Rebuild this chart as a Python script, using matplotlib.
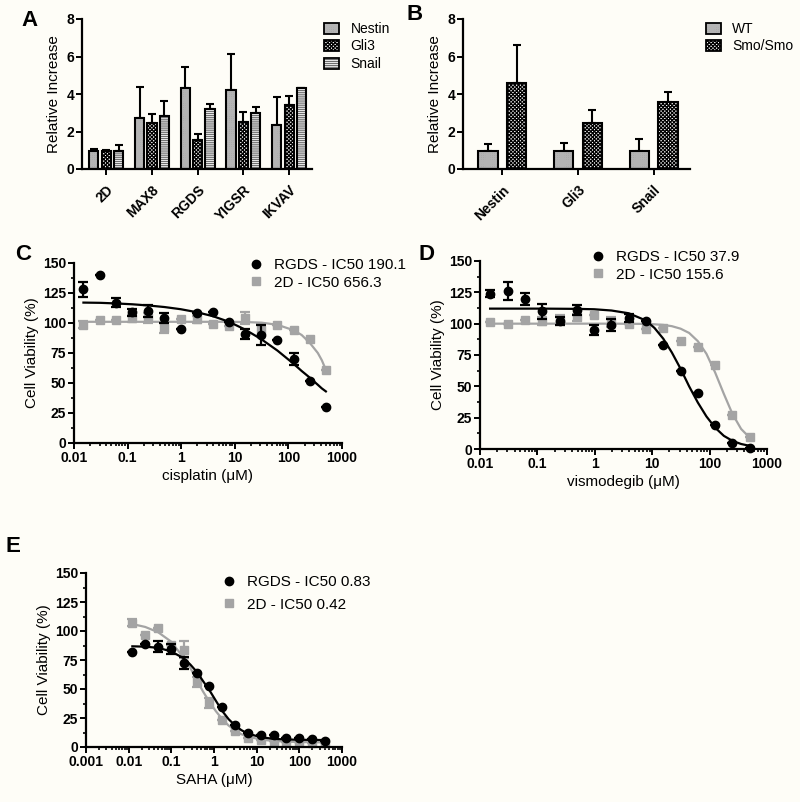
import matplotlib
matplotlib.use("Agg")
import matplotlib.pyplot as plt
import numpy as np
from matplotlib.patches import Patch
from matplotlib.lines import Line2D
from matplotlib.ticker import LogLocator, NullFormatter, MultipleLocator

plt.rcParams['font.family'] = ['Liberation Sans', 'DejaVu Sans']
plt.rcParams['font.weight'] = 'bold'
plt.rcParams['hatch.linewidth'] = 0.9

# ---- panel A data ----
a_groups = ['2D', 'MAX8', 'RGDS', 'YIGSR', 'IKVAV']
a_nestin = [0.98, 2.70, 4.33, 4.21, 2.36]
a_nestin_err = [0.07, 1.69, 1.09, 1.90, 1.46]
a_gli3 = [0.98, 2.47, 1.55, 2.49, 3.41]
a_gli3_err = [0.03, 0.48, 0.33, 0.53, 0.48]
a_snail = [0.98, 2.84, 3.21, 3.00, 4.33]
a_snail_err = [0.30, 0.78, 0.25, 0.29, 0.0]

# ---- panel B data ----
b_genes = ['Nestin', 'Gli3', 'Snail']
b_wt = [0.98, 0.98, 0.98]
b_wt_err = [0.37, 0.42, 0.62]
b_smo = [4.60, 2.43, 3.55]
b_smo_err = [2.01, 0.70, 0.54]

# ---- panel C data (cisplatin) ----
c_conc = [0.015, 0.031, 0.061, 0.122, 0.244, 0.488, 0.977, 1.95, 3.9, 7.8, 15.6, 31.25, 62.5, 125, 250, 500]
c_rgds = [128, 140, 117, 109, 110, 104, 95, 108, 109, 101, 91, 90, 86, 70, 52, 30]
c_rgds_err = [6, 0, 4, 3, 5, 4, 0, 0, 0, 0, 4, 8, 0, 5, 0, 0]
c_2d = [98.6, 102.5, 102.5, 104, 104, 96, 103, 103, 99.5, 97.5, 104, 94, 98.5, 94, 87, 61]
c_2d_err = [3, 0, 0, 3, 4, 4, 0, 3, 0, 0, 5, 5, 0, 0, 0, 0]
c_fit_x = [0.015, 0.031, 0.061, 0.122, 0.244, 0.488, 0.977, 1.95, 3.9, 7.8, 15.6, 31.25, 62.5, 125, 177, 250, 354, 420, 500]
c_rgds_fit = [117, 116.8, 116.3, 115.6, 114.6, 113.3, 111.5, 109, 105.7, 101, 94.5, 86.5, 77, 66, 60, 54.5, 48.5, 45.5, 43]
c_2d_fit = [101, 101, 101, 101, 101, 101, 101, 101, 101, 101, 100.8, 100.3, 98.5, 94, 90, 83.5, 75, 69, 61]

# ---- panel D data (vismodegib) ----
d_conc = c_conc
d_rgds = [124, 126, 119.5, 110, 102, 111, 95, 99, 104.5, 102, 83, 62.5, 45, 19, 4.5, 0.5]
d_rgds_err = [3, 7, 5, 6, 3, 4, 4, 5, 3, 0, 0, 0, 0, 0, 0, 0]
d_2d = [101, 99.5, 103, 102, 103, 105, 107, 101, 99.5, 95.5, 96.5, 86.5, 81.5, 67, 27.5, 9.5]
d_2d_err = [0, 0, 0, 3, 4, 3, 0, 4, 0, 0, 0, 0, 0, 0, 0, 0]
d_fit_x = [0.015, 0.031, 0.061, 0.122, 0.244, 0.488, 0.977, 1.95, 3.9, 7.8, 11, 15.6, 22, 31.25, 44, 62.5, 88, 125, 177, 250, 354, 500]
d_rgds_fit = [112, 112, 112, 112, 111.9, 111.8, 111.5, 110.5, 108.3, 102.5, 96.5, 88, 77, 64, 50, 37, 26, 17, 10.5, 6.5, 4, 2.5]
d_2d_fit = [100, 100, 100, 100, 100, 100, 100, 100, 99.9, 99.8, 99.5, 99, 98, 96, 92.6, 86, 76, 61, 44, 28, 16, 9]

# ---- panel E data (SAHA) ----
e_conc = [0.0122, 0.0244, 0.0488, 0.0977, 0.195, 0.39, 0.78, 1.5625, 3.125, 6.25, 12.5, 25, 50, 100, 200, 400]
e_rgds = [82, 88.5, 86.5, 84.5, 72.5, 63.5, 52.8, 34.6, 19.3, 12.4, 10, 10, 8, 8, 6.6, 4.9]
e_rgds_err = [0, 0, 5, 4, 5, 0, 0, 0, 0, 0, 0, 0, 0, 0, 0, 0]
e_2d = [107, 96.5, 103, 88, 84, 56, 38, 23, 13.6, 8, 6.3, 5.2, 4.3, 4, 3.5, 3.5]
e_2d_err = [3, 0, 0, 0, 7, 4, 4, 0, 0, 0, 0, 0, 0, 0, 0, 0]
e_fit_x = [0.0122, 0.0244, 0.0488, 0.0977, 0.195, 0.28, 0.39, 0.55, 0.78, 1.1, 1.5625, 2.2, 3.125, 4.4, 6.25, 12.5, 25, 50, 100, 200, 400]
e_rgds_fit = [86.8, 86.5, 85.5, 82.5, 76.5, 71, 65, 57, 49, 40, 31, 24, 18.5, 14.5, 11.5, 8.5, 7, 6.5, 6.2, 6.1, 6]
e_2d_fit = [106, 103.5, 99, 91, 77, 68, 58, 48, 39, 31, 24, 18.5, 14.3, 11, 9, 6.4, 5.2, 4.6, 4.3, 4.1, 4]

BG = '#fefdf7'
GREY = '#a4a4a4'
W, H = 800, 802

fig = plt.figure(figsize=(8, 8.02), dpi=100, facecolor=BG)


def px_axes(left, top, right, bottom):
    ax = fig.add_axes([left / W, 1 - bottom / H, (right - left) / W, (bottom - top) / H])
    ax.set_facecolor(BG)
    ax.spines['top'].set_visible(False)
    ax.spines['right'].set_visible(False)
    ax.spines['left'].set_linewidth(1.6)
    ax.spines['bottom'].set_linewidth(1.6)
    ax.tick_params(width=1.4, length=4, labelsize=10, pad=1.5)
    ax.tick_params(which='minor', width=1.2, length=2.5)
    return ax


styles = {
    'Nestin': dict(face='#8a8a8a', hatch='+' * 9, hc='#b4b4b4'),
    'Gli3': dict(face='white', hatch='x' * 9, hc='black'),
    'Snail': dict(face='white', hatch='-' * 8, hc='#707070'),
}


def draw_bars(ax, x, h, err, st, w):
    ax.bar(x, h, w, color=st['face'], hatch=st['hatch'], edgecolor=st['hc'], linewidth=0, zorder=2)
    ax.bar(x, h, w, fill=False, edgecolor='k', linewidth=1.5, zorder=3)
    ax.errorbar(x, h, yerr=[np.zeros(len(h)), err], fmt='none', ecolor='k',
                elinewidth=1.5, capsize=3, capthick=1.5, zorder=1)


def legend_handle(st):
    fill = Patch(facecolor=st['face'], hatch=st['hatch'], edgecolor=st['hc'], linewidth=0)
    edge = Patch(fill=False, edgecolor='k', linewidth=1.3)
    return (fill, edge)


def bar_axes_common(ax, labels):
    ax.set_ylim(0, 8)
    ax.set_yticks([0, 2, 4, 6, 8])
    ax.set_xticks(np.arange(len(labels)))
    ax.set_xticklabels(labels, rotation=45, ha='right', va='top', rotation_mode='anchor', fontsize=10)
    ax.tick_params(axis='x', pad=6)
    ax.set_ylabel('Relative Increase', fontsize=11, labelpad=4)


# ---- A ----
axA = px_axes(82, 19, 312, 169)
xa = np.arange(len(a_groups))
draw_bars(axA, xa - 0.27, a_nestin, a_nestin_err, styles['Nestin'], 0.2)
draw_bars(axA, xa, a_gli3, a_gli3_err, styles['Gli3'], 0.2)
draw_bars(axA, xa + 0.27, a_snail, a_snail_err, styles['Snail'], 0.2)
axA.set_xlim(-0.53, 4.5)
bar_axes_common(axA, a_groups)
axA.legend([legend_handle(styles[k]) for k in ['Nestin', 'Gli3', 'Snail']], ['Nestin', 'Gli3', 'Snail'],
           loc='upper left', bbox_to_anchor=(324 / W, 1 - 22 / H),
           bbox_transform=fig.transFigure, frameon=False, borderpad=0, borderaxespad=0,
           handlelength=1.1, handleheight=0.85, handletextpad=0.8, labelspacing=0.25,
           prop={'size': 10, 'weight': 'normal'})

# ---- B ----
axB = px_axes(463, 19, 690, 169)
xb = np.arange(len(b_genes))
draw_bars(axB, xb - 0.19, b_wt, b_wt_err, styles['Nestin'], 0.255)
draw_bars(axB, xb + 0.19, b_smo, b_smo_err, styles['Gli3'], 0.255)
axB.set_xlim(-0.52, 2.48)
bar_axes_common(axB, b_genes)
axB.legend([legend_handle(styles[k]) for k in ['Nestin', 'Gli3']], ['WT', 'Smo/Smo'],
           loc='upper left', bbox_to_anchor=(706 / W, 1 - 22 / H),
           bbox_transform=fig.transFigure, frameon=False, borderpad=0, borderaxespad=0,
           handlelength=1.1, handleheight=0.85, handletextpad=0.8, labelspacing=0.25,
           prop={'size': 10, 'weight': 'normal'})


# ---- dose-response panels ----
def dose_panel(ax, conc, rg, rg_err, dd, dd_err, fx, rg_fit, dd_fit, xlim, xticks, xticklabels,
               xlabel, labels, leg_xy, spacing):
    ax.set_xscale('log')
    ax.plot(fx, dd_fit, color=GREY, lw=1.6, zorder=2)
    ax.plot(fx, rg_fit, color='k', lw=1.6, zorder=3)
    ax.errorbar(conc, dd, yerr=dd_err, fmt='none', ecolor=GREY, elinewidth=1.6, capsize=3.5,
                capthick=1.6, zorder=2)
    ax.plot(conc, dd, 's', color=GREY, ms=5.5, zorder=2, clip_on=False)
    ax.errorbar(conc, rg, yerr=rg_err, fmt='none', ecolor='k', elinewidth=1.6, capsize=3.5,
                capthick=1.6, zorder=4)
    ax.plot(conc, rg, 'o', color='k', ms=6, zorder=4, clip_on=False)
    ax.set_xlim(*xlim)
    ax.set_ylim(0, 150)
    ax.set_yticks([0, 25, 50, 75, 100, 125, 150])
    ax.yaxis.set_minor_locator(MultipleLocator(12.5))
    ax.set_xticks(xticks)
    ax.set_xticklabels(xticklabels)
    ax.xaxis.set_minor_locator(LogLocator(base=10, subs=np.arange(2, 10)))
    ax.xaxis.set_minor_formatter(NullFormatter())
    ax.set_xlabel(xlabel, fontsize=11, labelpad=3)
    ax.set_ylabel('Cell Viability (%)', fontsize=11, labelpad=3)
    handles = [Line2D([], [], marker='o', color='k', ls='none', ms=6),
               Line2D([], [], marker='s', color=GREY, ls='none', ms=5.5)]
    ax.legend(handles, labels, loc='upper left', bbox_to_anchor=leg_xy, bbox_transform=fig.transFigure,
              frameon=False, borderpad=0, borderaxespad=0, handlelength=0.8, handletextpad=0.8,
              labelspacing=spacing, prop={'size': 11, 'weight': 'normal'})


axC = px_axes(74, 263, 342, 443)
dose_panel(axC, c_conc, c_rgds, c_rgds_err, c_2d, c_2d_err, c_fit_x, c_rgds_fit, c_2d_fit,
           (0.01, 1000), [0.01, 0.1, 1, 10, 100, 1000], ['0.01', '0.1', '1', '10', '100', '1000'],
           'cisplatin (\u03bcM)', ['RGDS - IC50 190.1', '2D - IC50 656.3'], (250 / W, 1 - 258 / H), 0.25)

axD = px_axes(480, 261, 767, 449)
dose_panel(axD, d_conc, d_rgds, d_rgds_err, d_2d, d_2d_err, d_fit_x, d_rgds_fit, d_2d_fit,
           (0.01, 1000), [0.01, 0.1, 1, 10, 100, 1000], ['0.01', '0.1', '1', '10', '100', '1000'],
           'vismodegib (\u03bcM)', ['RGDS - IC50 37.9', '2D - IC50 155.6'], (592 / W, 1 - 250 / H), 0.25)

axE = px_axes(86, 573, 342, 747)
dose_panel(axE, e_conc, e_rgds, e_rgds_err, e_2d, e_2d_err, e_fit_x, e_rgds_fit, e_2d_fit,
           (0.001, 1000), [0.001, 0.01, 0.1, 1, 10, 100, 1000],
           ['0.001', '0.01', '0.1', '1', '10', '100', '1000'],
           'SAHA (\u03bcM)', ['RGDS - IC50 0.83', '2D - IC50 0.42'], (223 / W, 1 - 575 / H), 0.57)

# panel letters
for letter, (lx, ly) in {'A': (30, 20), 'B': (415, 15), 'C': (23, 255), 'D': (426, 255), 'E': (13, 546)}.items():
    fig.text(lx / W, 1 - ly / H, letter, fontsize=16, fontweight='bold', ha='center', va='center')

fig.savefig('out.png', dpi=100, facecolor=BG)
